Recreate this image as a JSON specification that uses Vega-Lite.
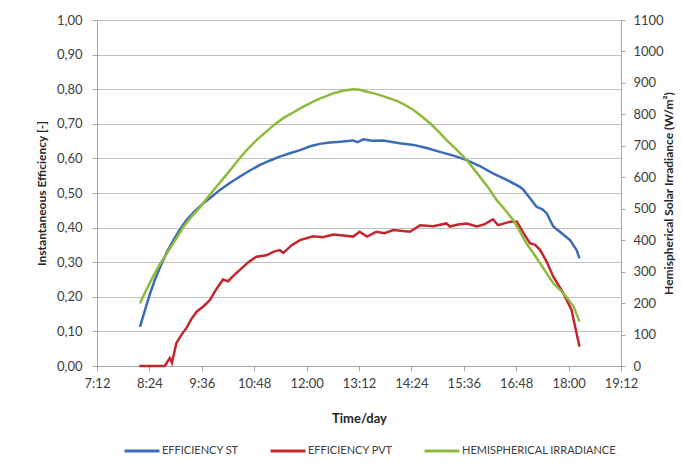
{
  "$schema": "https://vega.github.io/schema/vega-lite/v6.json",
  "autosize": "none",
  "width": 524,
  "height": 346,
  "padding": {"left": 97, "top": 20, "right": 61, "bottom": 99},
  "background": "white",
  "config": {
    "view": {"stroke": null},
    "font": "Lato",
    "axis": {
      "labelFont": "Lato",
      "labelFontSize": 13,
      "labelColor": "#404040",
      "titleFont": "Lato",
      "titleFontSize": 12,
      "titleFontWeight": "bold",
      "titleColor": "#262626",
      "domainColor": "#a6a6a6",
      "tickColor": "#a6a6a6",
      "gridColor": "#c0c0c0"
    }
  },
  "data": {
    "values": [
      {"time": "2000-01-01T08:11", "series": "EFFICIENCY ST", "value": 0.113},
      {"time": "2000-01-01T08:18", "series": "EFFICIENCY ST", "value": 0.162},
      {"time": "2000-01-01T08:25", "series": "EFFICIENCY ST", "value": 0.21},
      {"time": "2000-01-01T08:32", "series": "EFFICIENCY ST", "value": 0.252},
      {"time": "2000-01-01T08:39", "series": "EFFICIENCY ST", "value": 0.287},
      {"time": "2000-01-01T08:48", "series": "EFFICIENCY ST", "value": 0.329},
      {"time": "2000-01-01T08:57", "series": "EFFICIENCY ST", "value": 0.364},
      {"time": "2000-01-01T09:06", "series": "EFFICIENCY ST", "value": 0.395},
      {"time": "2000-01-01T09:15", "series": "EFFICIENCY ST", "value": 0.422},
      {"time": "2000-01-01T09:26", "series": "EFFICIENCY ST", "value": 0.447},
      {"time": "2000-01-01T09:38", "series": "EFFICIENCY ST", "value": 0.47},
      {"time": "2000-01-01T09:50", "series": "EFFICIENCY ST", "value": 0.49},
      {"time": "2000-01-01T10:01", "series": "EFFICIENCY ST", "value": 0.509},
      {"time": "2000-01-01T10:14", "series": "EFFICIENCY ST", "value": 0.528},
      {"time": "2000-01-01T10:28", "series": "EFFICIENCY ST", "value": 0.547},
      {"time": "2000-01-01T10:42", "series": "EFFICIENCY ST", "value": 0.565},
      {"time": "2000-01-01T10:56", "series": "EFFICIENCY ST", "value": 0.581},
      {"time": "2000-01-01T11:10", "series": "EFFICIENCY ST", "value": 0.594},
      {"time": "2000-01-01T11:23", "series": "EFFICIENCY ST", "value": 0.605},
      {"time": "2000-01-01T11:37", "series": "EFFICIENCY ST", "value": 0.615},
      {"time": "2000-01-01T11:51", "series": "EFFICIENCY ST", "value": 0.624},
      {"time": "2000-01-01T12:05", "series": "EFFICIENCY ST", "value": 0.635},
      {"time": "2000-01-01T12:18", "series": "EFFICIENCY ST", "value": 0.642},
      {"time": "2000-01-01T12:32", "series": "EFFICIENCY ST", "value": 0.646},
      {"time": "2000-01-01T12:46", "series": "EFFICIENCY ST", "value": 0.648},
      {"time": "2000-01-01T13:04", "series": "EFFICIENCY ST", "value": 0.652},
      {"time": "2000-01-01T13:10", "series": "EFFICIENCY ST", "value": 0.647},
      {"time": "2000-01-01T13:18", "series": "EFFICIENCY ST", "value": 0.655},
      {"time": "2000-01-01T13:30", "series": "EFFICIENCY ST", "value": 0.651},
      {"time": "2000-01-01T13:45", "series": "EFFICIENCY ST", "value": 0.652},
      {"time": "2000-01-01T14:08", "series": "EFFICIENCY ST", "value": 0.644},
      {"time": "2000-01-01T14:27", "series": "EFFICIENCY ST", "value": 0.639},
      {"time": "2000-01-01T14:45", "series": "EFFICIENCY ST", "value": 0.63},
      {"time": "2000-01-01T15:03", "series": "EFFICIENCY ST", "value": 0.619},
      {"time": "2000-01-01T15:22", "series": "EFFICIENCY ST", "value": 0.608},
      {"time": "2000-01-01T15:40", "series": "EFFICIENCY ST", "value": 0.595},
      {"time": "2000-01-01T15:58", "series": "EFFICIENCY ST", "value": 0.578},
      {"time": "2000-01-01T16:16", "series": "EFFICIENCY ST", "value": 0.557},
      {"time": "2000-01-01T16:35", "series": "EFFICIENCY ST", "value": 0.538},
      {"time": "2000-01-01T16:53", "series": "EFFICIENCY ST", "value": 0.518},
      {"time": "2000-01-01T16:58", "series": "EFFICIENCY ST", "value": 0.509},
      {"time": "2000-01-01T17:07", "series": "EFFICIENCY ST", "value": 0.485},
      {"time": "2000-01-01T17:16", "series": "EFFICIENCY ST", "value": 0.46},
      {"time": "2000-01-01T17:24", "series": "EFFICIENCY ST", "value": 0.453},
      {"time": "2000-01-01T17:30", "series": "EFFICIENCY ST", "value": 0.441},
      {"time": "2000-01-01T17:39", "series": "EFFICIENCY ST", "value": 0.403},
      {"time": "2000-01-01T17:48", "series": "EFFICIENCY ST", "value": 0.388},
      {"time": "2000-01-01T18:02", "series": "EFFICIENCY ST", "value": 0.364},
      {"time": "2000-01-01T18:11", "series": "EFFICIENCY ST", "value": 0.335},
      {"time": "2000-01-01T18:15", "series": "EFFICIENCY ST", "value": 0.311},

      {"time": "2000-01-01T08:10", "series": "EFFICIENCY PVT", "value": 0.0},
      {"time": "2000-01-01T08:45", "series": "EFFICIENCY PVT", "value": 0.0},
      {"time": "2000-01-01T08:52", "series": "EFFICIENCY PVT", "value": 0.023},
      {"time": "2000-01-01T08:55", "series": "EFFICIENCY PVT", "value": 0.009},
      {"time": "2000-01-01T09:01", "series": "EFFICIENCY PVT", "value": 0.066},
      {"time": "2000-01-01T09:08", "series": "EFFICIENCY PVT", "value": 0.09},
      {"time": "2000-01-01T09:15", "series": "EFFICIENCY PVT", "value": 0.11},
      {"time": "2000-01-01T09:22", "series": "EFFICIENCY PVT", "value": 0.137},
      {"time": "2000-01-01T09:29", "series": "EFFICIENCY PVT", "value": 0.157},
      {"time": "2000-01-01T09:38", "series": "EFFICIENCY PVT", "value": 0.172},
      {"time": "2000-01-01T09:47", "series": "EFFICIENCY PVT", "value": 0.19},
      {"time": "2000-01-01T09:56", "series": "EFFICIENCY PVT", "value": 0.222},
      {"time": "2000-01-01T10:05", "series": "EFFICIENCY PVT", "value": 0.25},
      {"time": "2000-01-01T10:12", "series": "EFFICIENCY PVT", "value": 0.245},
      {"time": "2000-01-01T10:20", "series": "EFFICIENCY PVT", "value": 0.262},
      {"time": "2000-01-01T10:28", "series": "EFFICIENCY PVT", "value": 0.277},
      {"time": "2000-01-01T10:40", "series": "EFFICIENCY PVT", "value": 0.3},
      {"time": "2000-01-01T10:51", "series": "EFFICIENCY PVT", "value": 0.316},
      {"time": "2000-01-01T11:05", "series": "EFFICIENCY PVT", "value": 0.32},
      {"time": "2000-01-01T11:14", "series": "EFFICIENCY PVT", "value": 0.33},
      {"time": "2000-01-01T11:23", "series": "EFFICIENCY PVT", "value": 0.335},
      {"time": "2000-01-01T11:28", "series": "EFFICIENCY PVT", "value": 0.327},
      {"time": "2000-01-01T11:40", "series": "EFFICIENCY PVT", "value": 0.35},
      {"time": "2000-01-01T11:51", "series": "EFFICIENCY PVT", "value": 0.364},
      {"time": "2000-01-01T12:09", "series": "EFFICIENCY PVT", "value": 0.375},
      {"time": "2000-01-01T12:22", "series": "EFFICIENCY PVT", "value": 0.372},
      {"time": "2000-01-01T12:37", "series": "EFFICIENCY PVT", "value": 0.38},
      {"time": "2000-01-01T12:50", "series": "EFFICIENCY PVT", "value": 0.377},
      {"time": "2000-01-01T13:04", "series": "EFFICIENCY PVT", "value": 0.374},
      {"time": "2000-01-01T13:13", "series": "EFFICIENCY PVT", "value": 0.388},
      {"time": "2000-01-01T13:23", "series": "EFFICIENCY PVT", "value": 0.374},
      {"time": "2000-01-01T13:36", "series": "EFFICIENCY PVT", "value": 0.388},
      {"time": "2000-01-01T13:47", "series": "EFFICIENCY PVT", "value": 0.384},
      {"time": "2000-01-01T13:59", "series": "EFFICIENCY PVT", "value": 0.393},
      {"time": "2000-01-01T14:22", "series": "EFFICIENCY PVT", "value": 0.388},
      {"time": "2000-01-01T14:36", "series": "EFFICIENCY PVT", "value": 0.407},
      {"time": "2000-01-01T14:54", "series": "EFFICIENCY PVT", "value": 0.404},
      {"time": "2000-01-01T15:12", "series": "EFFICIENCY PVT", "value": 0.412},
      {"time": "2000-01-01T15:17", "series": "EFFICIENCY PVT", "value": 0.403},
      {"time": "2000-01-01T15:28", "series": "EFFICIENCY PVT", "value": 0.409},
      {"time": "2000-01-01T15:40", "series": "EFFICIENCY PVT", "value": 0.412},
      {"time": "2000-01-01T15:54", "series": "EFFICIENCY PVT", "value": 0.403},
      {"time": "2000-01-01T16:05", "series": "EFFICIENCY PVT", "value": 0.41},
      {"time": "2000-01-01T16:16", "series": "EFFICIENCY PVT", "value": 0.424},
      {"time": "2000-01-01T16:23", "series": "EFFICIENCY PVT", "value": 0.407},
      {"time": "2000-01-01T16:40", "series": "EFFICIENCY PVT", "value": 0.417},
      {"time": "2000-01-01T16:49", "series": "EFFICIENCY PVT", "value": 0.417},
      {"time": "2000-01-01T16:58", "series": "EFFICIENCY PVT", "value": 0.384},
      {"time": "2000-01-01T17:07", "series": "EFFICIENCY PVT", "value": 0.355},
      {"time": "2000-01-01T17:14", "series": "EFFICIENCY PVT", "value": 0.35},
      {"time": "2000-01-01T17:21", "series": "EFFICIENCY PVT", "value": 0.335},
      {"time": "2000-01-01T17:30", "series": "EFFICIENCY PVT", "value": 0.301},
      {"time": "2000-01-01T17:39", "series": "EFFICIENCY PVT", "value": 0.258},
      {"time": "2000-01-01T17:53", "series": "EFFICIENCY PVT", "value": 0.21},
      {"time": "2000-01-01T18:04", "series": "EFFICIENCY PVT", "value": 0.162},
      {"time": "2000-01-01T18:11", "series": "EFFICIENCY PVT", "value": 0.094},
      {"time": "2000-01-01T18:15", "series": "EFFICIENCY PVT", "value": 0.056},

      {"time": "2000-01-01T08:11", "series": "HEMISPHERICAL IRRADIANCE", "value": 199},
      {"time": "2000-01-01T08:20", "series": "HEMISPHERICAL IRRADIANCE", "value": 243},
      {"time": "2000-01-01T08:29", "series": "HEMISPHERICAL IRRADIANCE", "value": 284},
      {"time": "2000-01-01T08:38", "series": "HEMISPHERICAL IRRADIANCE", "value": 322},
      {"time": "2000-01-01T08:48", "series": "HEMISPHERICAL IRRADIANCE", "value": 358},
      {"time": "2000-01-01T09:00", "series": "HEMISPHERICAL IRRADIANCE", "value": 402},
      {"time": "2000-01-01T09:11", "series": "HEMISPHERICAL IRRADIANCE", "value": 443},
      {"time": "2000-01-01T09:22", "series": "HEMISPHERICAL IRRADIANCE", "value": 475},
      {"time": "2000-01-01T09:34", "series": "HEMISPHERICAL IRRADIANCE", "value": 506},
      {"time": "2000-01-01T09:45", "series": "HEMISPHERICAL IRRADIANCE", "value": 539},
      {"time": "2000-01-01T09:56", "series": "HEMISPHERICAL IRRADIANCE", "value": 570},
      {"time": "2000-01-01T10:08", "series": "HEMISPHERICAL IRRADIANCE", "value": 603},
      {"time": "2000-01-01T10:19", "series": "HEMISPHERICAL IRRADIANCE", "value": 634},
      {"time": "2000-01-01T10:30", "series": "HEMISPHERICAL IRRADIANCE", "value": 666},
      {"time": "2000-01-01T10:42", "series": "HEMISPHERICAL IRRADIANCE", "value": 697},
      {"time": "2000-01-01T10:53", "series": "HEMISPHERICAL IRRADIANCE", "value": 722},
      {"time": "2000-01-01T11:05", "series": "HEMISPHERICAL IRRADIANCE", "value": 746},
      {"time": "2000-01-01T11:16", "series": "HEMISPHERICAL IRRADIANCE", "value": 768},
      {"time": "2000-01-01T11:28", "series": "HEMISPHERICAL IRRADIANCE", "value": 788},
      {"time": "2000-01-01T11:40", "series": "HEMISPHERICAL IRRADIANCE", "value": 804},
      {"time": "2000-01-01T11:51", "series": "HEMISPHERICAL IRRADIANCE", "value": 819},
      {"time": "2000-01-01T12:03", "series": "HEMISPHERICAL IRRADIANCE", "value": 833},
      {"time": "2000-01-01T12:14", "series": "HEMISPHERICAL IRRADIANCE", "value": 846},
      {"time": "2000-01-01T12:26", "series": "HEMISPHERICAL IRRADIANCE", "value": 857},
      {"time": "2000-01-01T12:37", "series": "HEMISPHERICAL IRRADIANCE", "value": 867},
      {"time": "2000-01-01T12:50", "series": "HEMISPHERICAL IRRADIANCE", "value": 875},
      {"time": "2000-01-01T13:04", "series": "HEMISPHERICAL IRRADIANCE", "value": 880},
      {"time": "2000-01-01T13:13", "series": "HEMISPHERICAL IRRADIANCE", "value": 878},
      {"time": "2000-01-01T13:23", "series": "HEMISPHERICAL IRRADIANCE", "value": 872},
      {"time": "2000-01-01T13:34", "series": "HEMISPHERICAL IRRADIANCE", "value": 866},
      {"time": "2000-01-01T13:45", "series": "HEMISPHERICAL IRRADIANCE", "value": 858},
      {"time": "2000-01-01T14:04", "series": "HEMISPHERICAL IRRADIANCE", "value": 843},
      {"time": "2000-01-01T14:15", "series": "HEMISPHERICAL IRRADIANCE", "value": 830},
      {"time": "2000-01-01T14:27", "series": "HEMISPHERICAL IRRADIANCE", "value": 814},
      {"time": "2000-01-01T14:38", "series": "HEMISPHERICAL IRRADIANCE", "value": 794},
      {"time": "2000-01-01T14:50", "series": "HEMISPHERICAL IRRADIANCE", "value": 771},
      {"time": "2000-01-01T15:01", "series": "HEMISPHERICAL IRRADIANCE", "value": 746},
      {"time": "2000-01-01T15:12", "series": "HEMISPHERICAL IRRADIANCE", "value": 719},
      {"time": "2000-01-01T15:26", "series": "HEMISPHERICAL IRRADIANCE", "value": 688},
      {"time": "2000-01-01T15:40", "series": "HEMISPHERICAL IRRADIANCE", "value": 655},
      {"time": "2000-01-01T15:58", "series": "HEMISPHERICAL IRRADIANCE", "value": 602},
      {"time": "2000-01-01T16:10", "series": "HEMISPHERICAL IRRADIANCE", "value": 566},
      {"time": "2000-01-01T16:21", "series": "HEMISPHERICAL IRRADIANCE", "value": 528},
      {"time": "2000-01-01T16:33", "series": "HEMISPHERICAL IRRADIANCE", "value": 496},
      {"time": "2000-01-01T16:44", "series": "HEMISPHERICAL IRRADIANCE", "value": 464},
      {"time": "2000-01-01T16:53", "series": "HEMISPHERICAL IRRADIANCE", "value": 428},
      {"time": "2000-01-01T17:02", "series": "HEMISPHERICAL IRRADIANCE", "value": 390},
      {"time": "2000-01-01T17:12", "series": "HEMISPHERICAL IRRADIANCE", "value": 357},
      {"time": "2000-01-01T17:21", "series": "HEMISPHERICAL IRRADIANCE", "value": 326},
      {"time": "2000-01-01T17:30", "series": "HEMISPHERICAL IRRADIANCE", "value": 294},
      {"time": "2000-01-01T17:39", "series": "HEMISPHERICAL IRRADIANCE", "value": 263},
      {"time": "2000-01-01T17:53", "series": "HEMISPHERICAL IRRADIANCE", "value": 231},
      {"time": "2000-01-01T18:07", "series": "HEMISPHERICAL IRRADIANCE", "value": 188},
      {"time": "2000-01-01T18:15", "series": "HEMISPHERICAL IRRADIANCE", "value": 141}
    ]
  },
  "encoding": {
    "x": {
      "field": "time",
      "type": "temporal",
      "title": "Time/day",
      "scale": {
        "domain": [
          {"year": 2000, "month": 1, "date": 1, "hours": 7, "minutes": 12},
          {"year": 2000, "month": 1, "date": 1, "hours": 19, "minutes": 12}
        ]
      },
      "axis": {
        "format": "%-H:%M",
        "values": [
          {"year": 2000, "month": 1, "date": 1, "hours": 7, "minutes": 12},
          {"year": 2000, "month": 1, "date": 1, "hours": 8, "minutes": 24},
          {"year": 2000, "month": 1, "date": 1, "hours": 9, "minutes": 36},
          {"year": 2000, "month": 1, "date": 1, "hours": 10, "minutes": 48},
          {"year": 2000, "month": 1, "date": 1, "hours": 12, "minutes": 0},
          {"year": 2000, "month": 1, "date": 1, "hours": 13, "minutes": 12},
          {"year": 2000, "month": 1, "date": 1, "hours": 14, "minutes": 24},
          {"year": 2000, "month": 1, "date": 1, "hours": 15, "minutes": 36},
          {"year": 2000, "month": 1, "date": 1, "hours": 16, "minutes": 48},
          {"year": 2000, "month": 1, "date": 1, "hours": 18, "minutes": 0},
          {"year": 2000, "month": 1, "date": 1, "hours": 19, "minutes": 12}
        ],
        "grid": false,
        "tickSize": 5,
        "labelPadding": 6,
        "titleFontSize": 13,
        "titlePadding": 22,
        "labelFlush": false,
        "labelOverlap": false
      }
    },
    "color": {
      "field": "series",
      "type": "nominal",
      "scale": {
        "domain": ["EFFICIENCY ST", "EFFICIENCY PVT", "HEMISPHERICAL IRRADIANCE"],
        "range": ["#3b6cb7", "#c4262e", "#8fba3c"]
      },
      "legend": {
        "title": null,
        "orient": "none",
        "direction": "horizontal",
        "legendX": 26,
        "legendY": 412,
        "symbolType": "stroke",
        "symbolSize": 1225,
        "symbolStrokeWidth": 3,
        "labelFont": "Lato",
        "labelFontSize": 11,
        "labelColor": "#404040",
        "labelOffset": 1,
        "columnPadding": 25
      }
    }
  },
  "layer": [
    {
      "transform": [{"filter": "datum.series !== 'HEMISPHERICAL IRRADIANCE'"}],
      "mark": {"type": "line", "strokeWidth": 2.5},
      "encoding": {
        "y": {
          "field": "value",
          "type": "quantitative",
          "title": "Instantaneous Efficiency [-]",
          "scale": {"domain": [0, 1]},
          "axis": {
            "orient": "left",
            "values": [0, 0.1, 0.2, 0.3, 0.4, 0.5, 0.6, 0.7, 0.8, 0.9, 1.0],
            "labelExpr": "replace(format(datum.value, '.2f'), '.', ',')",
            "grid": true,
            "tickSize": 5,
            "labelPadding": 10,
            "titlePadding": 8
          }
        }
      }
    },
    {
      "transform": [{"filter": "datum.series === 'HEMISPHERICAL IRRADIANCE'"}],
      "mark": {"type": "line", "strokeWidth": 2.5},
      "encoding": {
        "y": {
          "field": "value",
          "type": "quantitative",
          "title": "Hemispherical Solar Irradiance (W/m²)",
          "scale": {"domain": [0, 1100]},
          "axis": {
            "orient": "right",
            "values": [0, 100, 200, 300, 400, 500, 600, 700, 800, 900, 1000, 1100],
            "format": "d",
            "grid": false,
            "tickSize": 4,
            "labelPadding": 8,
            "titleAngle": 270,
            "titlePadding": 12
          }
        }
      }
    }
  ],
  "resolve": {"scale": {"y": "independent"}}
}
